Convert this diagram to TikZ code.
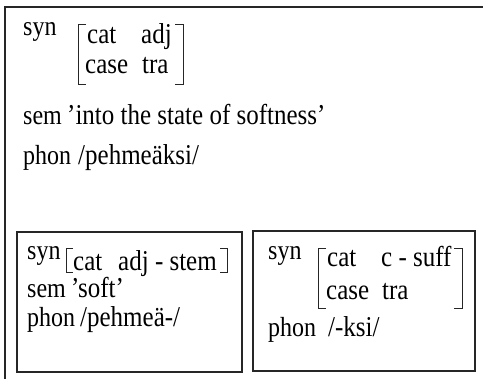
\documentclass[tikz,border=0pt]{standalone}
\usepackage{fontspec}
\setmainfont{Liberation Serif}
\newcommand\vstretch[1]{\scalebox{1}[1.15]{#1}}
\begin{document}
\begin{tikzpicture}[x=1pt,y=-1pt,
  txt/.style={anchor=base west, inner sep=0pt, font=\fontsize{25}{29}\selectfont},
  lbl/.style={anchor=base west, inner sep=0pt, font=\fontsize{24}{28}\selectfont},
  frame/.style={draw=black!85, line width=1.3pt},
  brk/.style={draw=black!85, line width=0.9pt}]
\useasboundingbox (0,0) rectangle (483,379);
% outer box (only top and left edges visible)
\draw[frame] (483,7) -- (5,7) -- (5,379);
% top structure
\node[lbl] (syn0) at (23,36) {\vstretch{syn}};
\draw[brk] (86,24) -- (78,24) -- (78,84) -- (86,84);
\draw[brk] (175,24) -- (183,24) -- (183,84) -- (175,84);
\node[txt] (cat0) at (87,44) {\vstretch{cat}};
\node[txt] (adj0) at (141,44) {\vstretch{adj}};
\node[txt] (case0) at (85,74) {\vstretch{case}};
\node[txt] (tra0) at (142,74) {\vstretch{tra}};
\node[lbl] (sem0) at (23,125) {\vstretch{sem}};
\node[txt] (semv0) at (67,125) {\vstretch{'into the state of softness'}};
\node[lbl] (phon0) at (23,165) {\vstretch{phon}};
\node[txt] (phonv0) at (78,165) {\vstretch{/pehmeäksi/}};
% box 1
\draw[frame] (17,232) rectangle (242,372);
\node[lbl] (syn1) at (27,260) {\vstretch{syn}};
\draw[brk] (73,248) -- (66,248) -- (66,272) -- (73,272);
\draw[brk] (220,248) -- (227,248) -- (227,272) -- (220,272);
\node[txt] (cat1) at (73,271) {\vstretch{cat}};
\node[txt] (adj1) at (118,271) {\vstretch{adj - stem}};
\node[lbl] (sem1) at (27,298) {\vstretch{sem}};
\node[txt] (semv1) at (71,298) {\vstretch{'soft'}};
\node[lbl] (phon1) at (27,327) {\vstretch{phon}};
\node[txt] (phonv1) at (80,327) {\vstretch{/pehmeä-/}};
% box 2
\draw[frame] (253,231) rectangle (475,371);
\node[lbl] (syn2) at (268,260) {\vstretch{syn}};
\draw[brk] (326,248) -- (318,248) -- (318,308) -- (326,308);
\draw[brk] (454,248) -- (462,248) -- (462,308) -- (454,308);
\node[txt] (cat2) at (327,267) {\vstretch{cat}};
\node[txt] (suf2) at (381,267) {\vstretch{c - suff}};
\node[txt] (case2) at (326,300) {\vstretch{case}};
\node[txt] (tra2) at (382,300) {\vstretch{tra}};
\node[lbl] (phon2) at (268,337) {\vstretch{phon}};
\node[txt] (phonv2) at (328,337) {\vstretch{/-ksi/}};
\end{tikzpicture}
\end{document}
